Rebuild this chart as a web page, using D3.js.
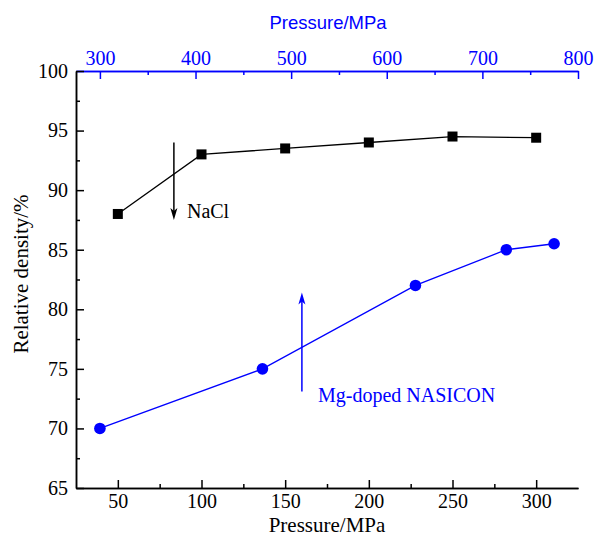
<!DOCTYPE html>
<html>
<head>
<meta charset="utf-8">
<script src="https://cdn.jsdelivr.net/npm/d3@7"></script>
<style>
  body { margin: 0; background: #fff; }
  svg text { font-family: "Liberation Serif", "Times New Roman", serif; }
</style>
</head>
<body>
<div id="chart"></div>
<script>
// NaCl series (bottom axis)
var naclPressure = [50, 100, 150, 200, 250, 300];
var naclDensity = [88, 93, 93.5, 94, 94.5, 94.4];

// Mg-doped NASICON series (top axis)
var nasiconPressure = [300, 470, 630, 725, 775];
var nasiconDensity = [70, 75, 82, 85, 85.5];

var bottomTicks = [50, 100, 150, 200, 250, 300];
var topTicks = [300, 400, 500, 600, 700, 800];
var yTicks = [65, 70, 75, 80, 85, 90, 95, 100];

var width = 595, height = 539;
// note: "top" is taken by window.top, so plot edges get their own names
var plotLeft = 76, plotRight = 578, plotTop = 71, plotBottom = 488;
var blue = "#0000ff";

var svg = d3.select("#chart").append("svg")
    .attr("width", width)
    .attr("height", height);

var x = d3.scaleLinear().domain([25, 325]).range([plotLeft, plotRight]);
var xTop = d3.scaleLinear().domain([275, 800]).range([plotLeft, plotRight]);
var y = d3.scaleLinear().domain([65, 100]).range([plotBottom, plotTop]);

// minor ticks sit halfway between major ones
function halves(arr) {
    var out = [];
    for (var i = 0; i < arr.length - 1; i++) out.push((arr[i] + arr[i + 1]) / 2);
    return out;
}

// bottom axis
var gb = svg.append("g").attr("transform", "translate(0," + plotBottom + ")");
gb.call(d3.axisBottom(x).tickValues(bottomTicks).tickSizeInner(-8).tickSizeOuter(0).tickPadding(6));
gb.append("g").call(d3.axisBottom(x).tickValues(halves(bottomTicks)).tickSizeInner(-4).tickSizeOuter(0).tickFormat(""));
gb.selectAll("path.domain").attr("stroke", "#000").attr("stroke-width", 1.5);
gb.selectAll(".tick line").attr("stroke", "#000").attr("stroke-width", 1.5);
gb.selectAll(".tick text").attr("fill", "#000").style("font-size", "20px");

// top axis
var gt = svg.append("g").attr("transform", "translate(0," + plotTop + ")");
gt.call(d3.axisTop(xTop).tickValues(topTicks).tickSizeInner(-8).tickSizeOuter(0).tickPadding(6));
gt.append("g").call(d3.axisTop(xTop).tickValues(halves(topTicks)).tickSizeInner(-4).tickSizeOuter(0).tickFormat(""));
gt.selectAll("path.domain").attr("stroke", blue).attr("stroke-width", 1.5);
gt.selectAll(".tick line").attr("stroke", blue).attr("stroke-width", 1.5);
gt.selectAll(".tick text").attr("fill", blue).style("font-size", "20px");

// left axis
var gl = svg.append("g").attr("transform", "translate(" + plotLeft + ",0)");
gl.call(d3.axisLeft(y).tickValues(yTicks).tickSizeInner(-8).tickSizeOuter(0).tickPadding(8));
gl.append("g").call(d3.axisLeft(y).tickValues(halves(yTicks)).tickSizeInner(-4).tickSizeOuter(0).tickFormat(""));
gl.selectAll("path.domain").attr("stroke", "#000").attr("stroke-width", 1.5);
gl.selectAll(".tick line").attr("stroke", "#000").attr("stroke-width", 1.5);
gl.selectAll(".tick text").attr("fill", "#000").style("font-size", "20px");

// axis titles
svg.append("text")
    .attr("x", (plotLeft + plotRight) / 2)
    .attr("y", 532)
    .attr("text-anchor", "middle")
    .style("font-size", "21px")
    .text("Pressure/MPa");

// top title is set in a sans face in the original
svg.append("text")
    .attr("x", (plotLeft + plotRight) / 2 + 1)
    .attr("y", 29)
    .attr("text-anchor", "middle")
    .style("font-family", "'Liberation Sans', Arial, sans-serif")
    .style("font-size", "18.5px")
    .attr("fill", blue)
    .text("Pressure/MPa");

svg.append("text")
    .attr("transform", "translate(28,274) rotate(-90)")
    .attr("text-anchor", "middle")
    .style("font-size", "21px")
    .text("Relative density/%");

// NaCl line + squares
var nacl = naclPressure.map(function(p, i) { return [p, naclDensity[i]]; });
svg.append("path")
    .datum(nacl)
    .attr("fill", "none")
    .attr("stroke", "#000")
    .attr("stroke-width", 1.3)
    .attr("d", d3.line().x(function(d) { return x(d[0]); }).y(function(d) { return y(d[1]); }));

svg.selectAll("rect.nacl")
    .data(nacl)
    .enter().append("rect")
    .attr("class", "nacl")
    .attr("x", function(d) { return x(d[0]) - 5; })
    .attr("y", function(d) { return y(d[1]) - 5; })
    .attr("width", 10)
    .attr("height", 10)
    .attr("fill", "#000");

// NASICON line + circles
var nasicon = nasiconPressure.map(function(p, i) { return [p, nasiconDensity[i]]; });
svg.append("path")
    .datum(nasicon)
    .attr("fill", "none")
    .attr("stroke", blue)
    .attr("stroke-width", 1.3)
    .attr("d", d3.line().x(function(d) { return xTop(d[0]); }).y(function(d) { return y(d[1]); }));

svg.selectAll("circle.nasicon")
    .data(nasicon)
    .enter().append("circle")
    .attr("class", "nasicon")
    .attr("cx", function(d) { return xTop(d[0]); })
    .attr("cy", function(d) { return y(d[1]); })
    .attr("r", 5.8)
    .attr("fill", blue);

// arrows + labels (bottom-axis / density coordinates)
function arrow(px, from, to, color) {
    var x0 = x(px), y0 = y(from), y1 = y(to);
    var dir = y1 > y0 ? 1 : -1;
    svg.append("line")
        .attr("x1", x0).attr("y1", y0)
        .attr("x2", x0).attr("y2", y1 - dir * 6)
        .attr("stroke", color)
        .attr("stroke-width", 1.5);
    svg.append("path")
        .attr("d", "M" + x0 + "," + y1 +
            " L" + (x0 - 3.5) + "," + (y1 - dir * 12) +
            " L" + x0 + "," + (y1 - dir * 9) +
            " L" + (x0 + 3.5) + "," + (y1 - dir * 12) + " Z")
        .attr("fill", color);
}

arrow(83.5, 94, 87.5, "#000");
svg.append("text")
    .attr("x", x(91.3))
    .attr("y", y(87.7))
    .style("font-size", "20px")
    .text("NaCl");

arrow(160, 73.1, 81.4, blue);
svg.append("text")
    .attr("x", x(169.6))
    .attr("y", y(72.2))
    .style("font-size", "20px")
    .attr("fill", blue)
    .text("Mg-doped NASICON");
</script>
</body>
</html>
